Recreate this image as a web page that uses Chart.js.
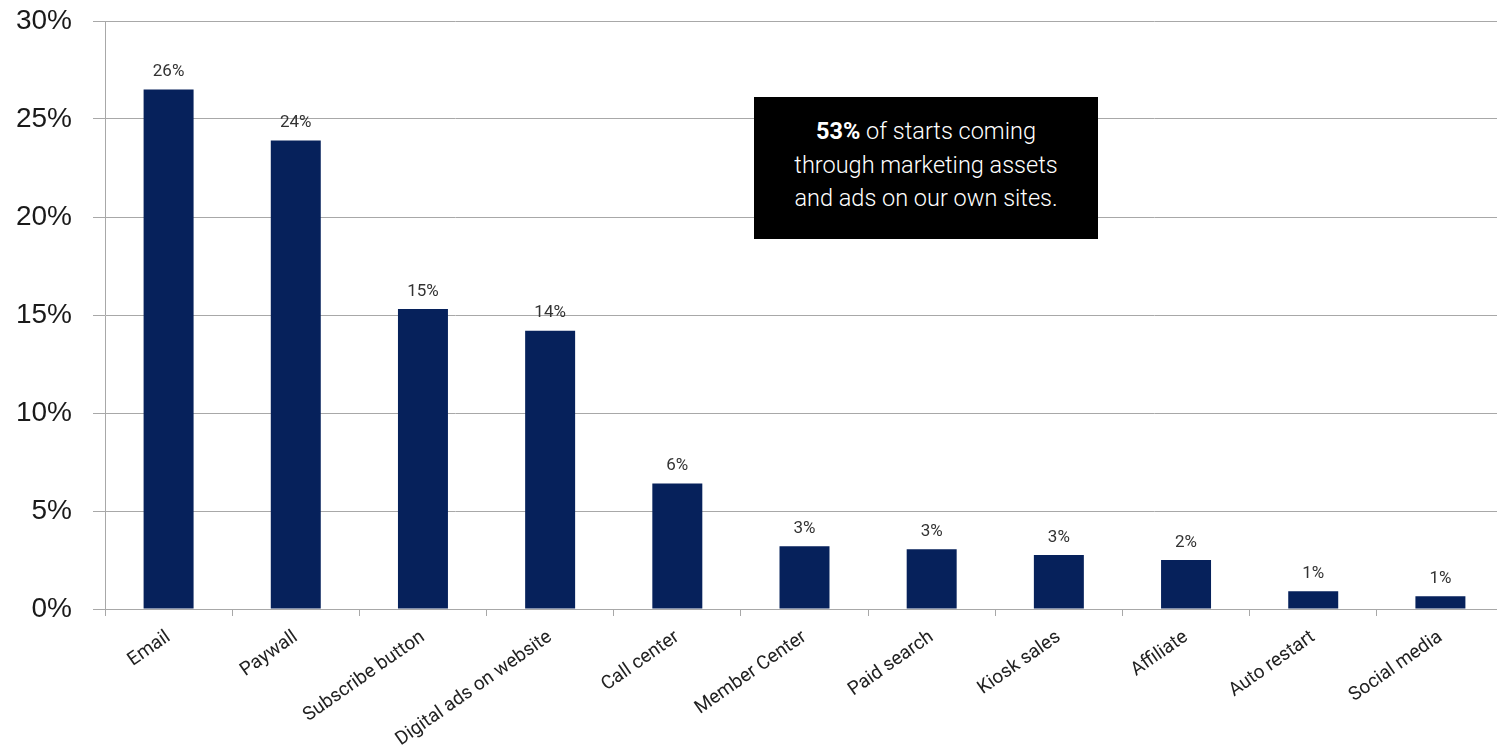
<!DOCTYPE html>
<html>
<head>
<meta charset="utf-8">
<script src="https://cdn.jsdelivr.net/npm/chart.js@4/dist/chart.umd.min.js"></script>
<style>
  html, body { margin: 0; padding: 0; background: #fff; overflow: hidden; }
  #wrap { position: relative; width: 1504px; height: 752px; }
  #nota {
    position: absolute; left: 754px; top: 97px; width: 344px; height: 142px;
    background: #000; color: #fff; text-align: center;
    font: 300 23.5px Roboto, sans-serif; line-height: 33.5px;
    box-sizing: border-box; padding-top: 18px;
  }
  #nota b { font-weight: 700; }
</style>
</head>
<body>
<div id="wrap">
  <canvas id="grafico"></canvas>
  <div id="nota"><b>53%</b> of starts coming<br>through marketing assets<br>and ads on our own sites.</div>
</div>
<script>
// ===== DADOS =====
const canais = ['Email', 'Paywall', 'Subscribe button', 'Digital ads on website', 'Call center',
  'Member Center', 'Paid search', 'Kiosk sales', 'Affiliate', 'Auto restart', 'Social media'];
const percentuais = [26.5, 23.9, 15.3, 14.2, 6.4, 3.2, 3.05, 2.75, 2.5, 0.9, 0.65];
const rotulos = ['26%', '24%', '15%', '14%', '6%', '3%', '3%', '3%', '2%', '1%', '1%'];
const ticksY = [0, 5, 10, 15, 20, 25, 30];

// ===== RÓTULOS NAS BARRAS =====
const rotulosPlugin = {
  id: 'rotulos',
  afterDatasetsDraw(chart) {
    const ctx = chart.ctx;
    const meta = chart.getDatasetMeta(0);
    ctx.save();
    ctx.font = '17px Roboto, sans-serif';
    ctx.fillStyle = '#333';
    ctx.textAlign = 'center';
    ctx.textBaseline = 'bottom';
    meta.data.forEach((bar, i) => {
      ctx.fillText(rotulos[i], bar.x, bar.y - 9);
    });
    ctx.restore();
  }
};

const cinza = '#a8a8a8';

new Chart(document.getElementById('grafico'), {
  type: 'bar',
  data: {
    labels: canais,
    datasets: [{
      data: percentuais,
      backgroundColor: '#06215b',
      borderWidth: 0,
      categoryPercentage: 1,
      barPercentage: 0.393
    }]
  },
  options: {
    responsive: true,
    maintainAspectRatio: false,
    animation: false,
    layout: { padding: { top: 21, left: 0, right: 0, bottom: 0 } },
    plugins: { legend: { display: false }, tooltip: { enabled: false } },
    scales: {
      x: {
        grid: { drawOnChartArea: false, color: cinza, tickLength: 7 },
        border: { color: cinza },
        ticks: {
          color: '#222',
          font: { family: 'Roboto', size: 19 },
          minRotation: 35,
          maxRotation: 35,
          autoSkip: false,
          padding: 10
        },
        afterFit(scale) { scale.height = 143; scale.paddingTop = 0; }
      },
      y: {
        min: 0,
        max: 30,
        grid: { color: cinza, tickLength: 12 },
        border: { color: cinza },
        afterBuildTicks(scale) { scale.ticks = ticksY.map(v => ({ value: v })); },
        ticks: {
          color: '#1a1a1a',
          font: { family: '"Liberation Sans", Arial', size: 28 },
          padding: 21,
          callback: v => v + '%'
        },
        afterFit(scale) { scale.width = 105; scale.paddingTop = 0; }
      }
    }
  },
  plugins: [rotulosPlugin]
});
</script>
</body>
</html>
